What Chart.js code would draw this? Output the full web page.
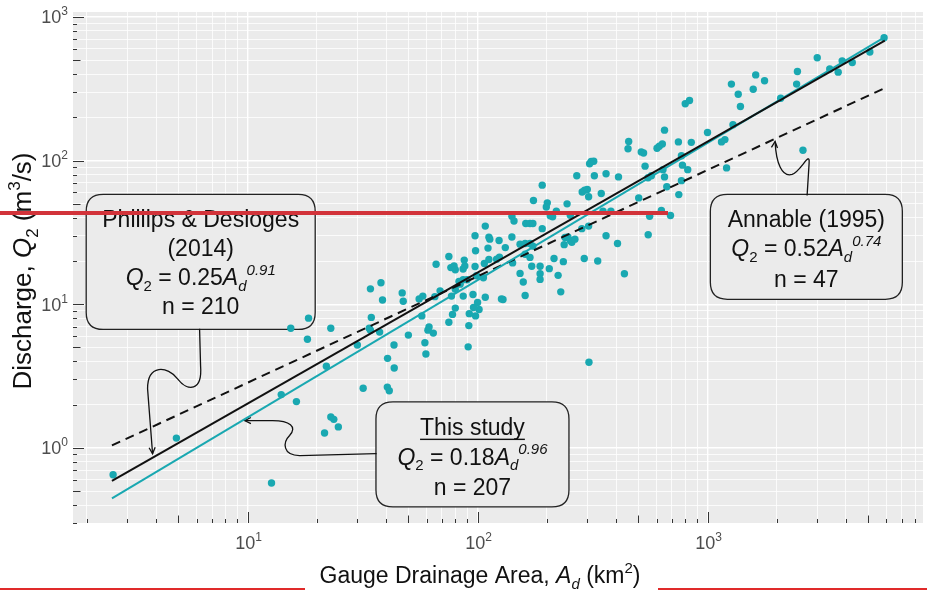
<!DOCTYPE html>
<html><head><meta charset="utf-8">
<script src="https://cdn.jsdelivr.net/npm/chart.js@4"></script>
<style>html,body{margin:0;padding:0;background:#fff;}#wrap{width:927px;height:592px;}</style>
</head><body><div id="wrap"><canvas id="c" width="927" height="592"></canvas></div>
<script>
// ---- data ----
const areaKm2 = [2.6,4.9,14,16.3,12.7,23,23.7,21.6,24.8,31.8,40.5,41.3,18.4,15.4,23,18.2,22,34.2,38,38.6,47,47.5,55.7,57.8,34.5,33.8,34.2,37.5,30,40.6,43.3,43.4,50,57.2,59,59.6,60.8,61.5,64.2,66,75,76.5,79,80,86.5,88,87.5,97.5,108,112,113,98,111,107,83,86.5,90,84,77,86.6,95.5,108,80,92,91.6,98,101.5,75,91,97.5,99,106,68.7,65.2,96,100,77.8,80,
191,175,201,199,207,212,141,144,162,169,174,191,124,141,132,153,161,169,174,121,124.5,112,142,161,169,172,187,153,158,187,187,161,127,129,
245,220,253,351,380,285,292,300,304,345,270,307,312,320,322,362,410,240,247,238,253,257,265,215,236,291,333,205,224,230,284,304,362,406,435,305,
650,747,850,1000,454,451,515,527,603,617,636,770,778,820,535,640,650,551,570,770,665,750,502,630,690,560,552,800,835,1150,1190,1210,1270,1360,1390,1290,1580,1620,1770,2080,2460,2440,2600,3000,3400,3700,3850,4260,5080,5860];
const dischargeQ2 = [0.65,1.17,2.35,2.1,0.57,1.64,1.58,1.27,1.4,2.6,2.65,2.5,8,6.8,6.8,5.7,3.7,12.8,14.1,10.7,12,10.5,10.9,11.4,8.1,6.8,6.6,6.4,5.2,4.2,5.2,3.6,6.1,8.3,5.4,4.5,6.6,6.95,6.3,19,21.5,18,18.5,17.4,17.6,18.5,20.3,30,35,29.3,28.4,23.6,24.6,19.2,14.4,14.8,14.8,13.8,11.4,11.4,11.7,11.2,9.4,8.6,7.1,8.3,9.2,7.5,5.05,18.3,15.8,15.3,12.4,11.3,9.5,10.3,8.5,12.7,
67.5,52.7,50.8,47.5,41.3,40.6,41,38,36.5,36.5,36.5,33.6,27.8,29.4,24.8,26.2,26.5,26.5,25.4,20.6,21.3,20.5,19.4,22.3,21.2,18.4,18.4,16.4,14.3,16.3,14.9,11.5,10.9,10.8,
50,44.5,41.7,44.5,44.5,60.5,62.3,63,56,59,78.5,95,98.5,99,78.5,81,77,29.2,29.4,26,27.8,27,28.4,20.8,19.8,20.8,20,17.7,15.9,12.2,33.6,35,30,26.5,16.3,3.95,
163,135,134,157,136,121,115,113,122,126,130.5,108,93,86.5,91.5,86.5,77,76,78.5,72.5,65.7,58,55,45,41.5,41,30.5,249,262,135,140,89,341,290,238,178,314,395,360,272,417,341,118,520,435,413,495,482,570,718];

// regression lines (end points)
const fitArea = [2.57, 5900];
const thisStudyQ = [0.445, 725];
const phillipsQ = [0.59, 685];
const annableQ = [1.04, 320];

// axis ticks
const tickMultipliers = [1,2,3,4,5,6,7,8,9];
const xDecades = [1,10,100,1000];
const yDecades = [0.1,1,10,100,1000];
const xLabelExponents = [1,2,3];
const yLabelExponents = [0,1,2,3];

const TEAL = '#19A8B1';
const FAM = '"Liberation Sans", Arial, Helvetica, sans-serif';

function buildTicks(decades, min, max){
  const out=[];
  decades.forEach(d=>tickMultipliers.forEach(m=>{const v=+(d*m).toPrecision(6); if(v>=min&&v<=max) out.push({value:v});}));
  return out;
}
function isDecade(v){const l=Math.log10(v);return Math.abs(l-Math.round(l))<1e-6;}
function isFive(v){const l=Math.log10(v/5);return Math.abs(l-Math.round(l))<1e-6;}

function richWidth(ctx, segs, size){
  let w=0;
  segs.forEach(s=>{ctx.font=`${s.i?'italic ':''}${(s.sub||s.sup)?Math.round(size*0.66):size}px ${FAM}`; w+=ctx.measureText(s.t).width;});
  return w;
}
function drawRich(ctx, segs, cx, cy, size, color){
  const f = s => `${s.i?'italic ':''}${(s.sub||s.sup)?Math.round(size*0.66):size}px ${FAM}`;
  let w=0;
  segs.forEach(s=>{ctx.font=f(s); s.w=ctx.measureText(s.t).width; w+=s.w;});
  let x=cx-w/2; const base=cy+size*0.36;
  ctx.fillStyle=color; ctx.textBaseline='alphabetic'; ctx.textAlign='left';
  segs.forEach(s=>{
    ctx.font=f(s); let y=base;
    if(s.sub) y+=size*0.25; if(s.sup) y-=size*0.45;
    ctx.fillText(s.t,x,y);
    if(s.u) ctx.fillRect(x, base+size*0.17, s.w, 1.4);
    x+=s.w;
  });
}

function roundRect(ctx,x,y,w,h,r){
  ctx.beginPath();
  ctx.moveTo(x+r,y);ctx.lineTo(x+w-r,y);ctx.quadraticCurveTo(x+w,y,x+w,y+r);
  ctx.lineTo(x+w,y+h-r);ctx.quadraticCurveTo(x+w,y+h,x+w-r,y+h);
  ctx.lineTo(x+r,y+h);ctx.quadraticCurveTo(x,y+h,x,y+h-r);
  ctx.lineTo(x,y+r);ctx.quadraticCurveTo(x,y,x+r,y);ctx.closePath();
}
function arrowHead(ctx,tx,ty,angle){
  const L=7,a=0.45;
  ctx.beginPath();
  ctx.moveTo(tx+L*Math.cos(angle+a),ty+L*Math.sin(angle+a));
  ctx.lineTo(tx,ty);
  ctx.lineTo(tx+L*Math.cos(angle-a),ty+L*Math.sin(angle-a));
  ctx.stroke();
}

// annotations: anchors in data coordinates
const notes = [
  {cx:6.25, cy:19.7, w:229, h:135, lines:[
    {dy:-43, segs:[{t:'Phillips & Desloges'}]},
    {dy:-14, segs:[{t:'(2014)'}]},
    {dy:15, segs:[{t:'Q',i:1},{t:'2',sub:1},{t:' = 0.25'},{t:'A',i:1},{t:'d',i:1,sub:1},{t:'0.91',i:1,sup:1}]},
    {dy:44, segs:[{t:'n = 210'}]}]},
  {cx:2690, cy:25.1, w:192, h:105, lines:[
    {dy:-28, segs:[{t:'Annable (1995)'}]},
    {dy:1, segs:[{t:'Q',i:1},{t:'2',sub:1},{t:' = 0.52'},{t:'A',i:1},{t:'d',i:1,sub:1},{t:'0.74',i:1,sup:1}]},
    {dy:32, segs:[{t:'n = 47'}]}]},
  {cx:95, cy:0.90, w:193, h:105, lines:[
    {dy:-28, segs:[{t:'This study',u:1}]},
    {dy:2, segs:[{t:'Q',i:1},{t:'2',sub:1},{t:' = 0.18'},{t:'A',i:1},{t:'d',i:1,sub:1},{t:'0.96',i:1,sup:1}]},
    {dy:32, segs:[{t:'n = 207'}]}]}
];
// callout tips in data coordinates
const tips = {phillips:[3.86,0.91], thisStudy:[9.7,1.55], annable:[1967,136]};

const annotPlugin = {
  id:'annot',
  beforeDraw(chart){
    const {ctx, chartArea:a} = chart;
    ctx.save(); ctx.fillStyle='#fff'; ctx.fillRect(0,0,chart.width,chart.height);
    ctx.fillStyle='#EBEBEB'; ctx.fillRect(a.left,a.top,a.right-a.left,a.bottom-a.top); ctx.restore();
  },
  beforeDatasetsDraw(chart){
    const {ctx, scales:{x,y}} = chart;
    ctx.save();
    notes.forEach(n=>{
      const px=x.getPixelForValue(n.cx), py=y.getPixelForValue(n.cy);
      roundRect(ctx, px-n.w/2, py-n.h/2, n.w, n.h, 17);
      ctx.fillStyle='#EBEBEB'; ctx.fill(); ctx.strokeStyle='#222'; ctx.lineWidth=1.3; ctx.stroke();
      n.lines.forEach(l=>drawRich(ctx,l.segs,px,py+l.dy,23,'#111'));
    });
    // callouts
    ctx.strokeStyle='#111'; ctx.lineWidth=1.3;
    let t=[x.getPixelForValue(tips.thisStudy[0]), y.getPixelForValue(tips.thisStudy[1])];
    ctx.beginPath();
    ctx.moveTo(t[0]+132,t[1]+33);
    ctx.lineTo(t[0]+55,t[1]+35);
    ctx.bezierCurveTo(t[0]+38,t[1]+35, t[0]+38,t[1]+22, t[0]+45,t[1]+15);
    ctx.bezierCurveTo(t[0]+53,t[1]+6, t[0]+45,t[1]+0, t[0]+28,t[1]+0);
    ctx.lineTo(t[0],t[1]);
    ctx.stroke(); arrowHead(ctx,t[0],t[1],0);
    t=[x.getPixelForValue(tips.phillips[0]), y.getPixelForValue(tips.phillips[1])];
    ctx.beginPath();
    ctx.moveTo(t[0]+47,t[1]-125);
    ctx.lineTo(t[0]+48,t[1]-88);
    ctx.bezierCurveTo(t[0]+50,t[1]-62, t[0]+35,t[1]-62, t[0]+25,t[1]-75);
    ctx.bezierCurveTo(t[0]+15,t[1]-88, t[0]-5,t[1]-90, t[0]-5,t[1]-65);
    ctx.lineTo(t[0],t[1]);
    ctx.stroke(); arrowHead(ctx,t[0],t[1],-Math.PI/2-0.07);
    t=[x.getPixelForValue(tips.annable[0]), y.getPixelForValue(tips.annable[1])];
    ctx.beginPath();
    ctx.moveTo(t[0]+32,t[1]+54);
    ctx.lineTo(t[0]+34,t[1]+22);
    ctx.bezierCurveTo(t[0]+35,t[1]+8, t[0]+26,t[1]+30, t[0]+17,t[1]+33);
    ctx.bezierCurveTo(t[0]+7,t[1]+36, t[0]+1,t[1]+22, t[0],t[1]);
    ctx.stroke(); arrowHead(ctx,t[0],t[1],Math.PI/2+0.1);
    ctx.restore();
  },
  afterDraw(chart){
    const {ctx, chartArea:a, scales:{x,y}} = chart;
    ctx.save();
    // log ticks inside panel
    ctx.strokeStyle='#333'; ctx.lineWidth=1;
    x.ticks.forEach(tk=>{
      const p=Math.round(x.getPixelForValue(tk.value))+0.5;
      const L=isDecade(tk.value)?11:(isFive(tk.value)?7.5:4);
      ctx.beginPath(); ctx.moveTo(p,a.bottom); ctx.lineTo(p,a.bottom-L); ctx.stroke();
    });
    y.ticks.forEach(tk=>{
      const p=Math.round(y.getPixelForValue(tk.value))+0.5;
      const L=isDecade(tk.value)?11:(isFive(tk.value)?7.5:4);
      ctx.beginPath(); ctx.moveTo(a.left,p); ctx.lineTo(a.left+L,p); ctx.stroke();
    });
    // tick labels 10^k
    xLabelExponents.forEach(e=>{
      const p=x.getPixelForValue(Math.pow(10,e));
      drawRich(ctx,[{t:'10'},{t:String(e),sup:1}],p+1,a.bottom+20,18,'#4D4D4D');
    });
    yLabelExponents.forEach(e=>{
      const p=y.getPixelForValue(Math.pow(10,e));
      const segs=[{t:'10'},{t:String(e),sup:1}];
      const w=richWidth(ctx,segs,18);
      drawRich(ctx,segs,a.left-5-w/2,p,18,'#4D4D4D');
    });
    // axis titles
    drawRich(ctx,[{t:'Gauge Drainage Area, '},{t:'A',i:1},{t:'d',i:1,sub:1},{t:' (km'},{t:'2',sup:1},{t:')'}],480,575,23,'#111');
    ctx.save(); ctx.translate(22,271); ctx.rotate(-Math.PI/2);
    drawRich(ctx,[{t:'Discharge, '},{t:'Q',i:1},{t:'2',sub:1},{t:' (m'},{t:'3',sup:1},{t:'/s)'}],0,0,26,'#111');
    ctx.restore();
    // red overlay strokes present in the reference
    ctx.fillStyle='#D2333A';
    ctx.fillRect(0,211,668,4);
    ctx.fillStyle='#E02A2A';
    ctx.fillRect(0,588,305,2);
    ctx.fillRect(658,588,269,2);
    ctx.restore();
  }
};

const pts = areaKm2.map((a,i)=>({x:a,y:dischargeQ2[i]}));
const line = q => fitArea.map((a,i)=>({x:a,y:q[i]}));

new Chart(document.getElementById('c'),{
  type:'scatter',
  data:{datasets:[
    {label:'Phillips & Desloges (2014)',data:line(phillipsQ),showLine:true,borderColor:'#111',borderWidth:2,pointRadius:0,order:0},
    {label:'This study',data:line(thisStudyQ),showLine:true,borderColor:TEAL,borderWidth:2,pointRadius:0,order:1},
    {label:'Annable (1995)',data:line(annableQ),showLine:true,borderColor:'#111',borderWidth:2,borderDash:[9,6],pointRadius:0,order:2},
    {label:'Gauges',data:pts,pointRadius:3.7,pointBackgroundColor:TEAL,pointBorderWidth:0,backgroundColor:TEAL,order:3}
  ]},
  options:{
    responsive:false, animation:false, devicePixelRatio:1,
    layout:{padding:{left:0,right:2,top:12,bottom:0}},
    plugins:{legend:{display:false},tooltip:{enabled:false}},
    scales:{
      x:{type:'logarithmic',min:1.74,max:8650,
        afterBuildTicks:s=>{s.ticks=buildTicks(xDecades,s.min,s.max);},
        afterFit:s=>{s.height=69;},
        ticks:{display:false},
        border:{display:false},
        grid:{color:'#FFFFFF',drawTicks:false,lineWidth:c=>isDecade(c.tick.value)?1.4:0.8}},
      y:{type:'logarithmic',min:0.306,max:1083,
        afterBuildTicks:s=>{s.ticks=buildTicks(yDecades,s.min,s.max);},
        afterFit:s=>{s.width=73;},
        ticks:{display:false},
        border:{display:false},
        grid:{color:'#FFFFFF',drawTicks:false,lineWidth:c=>isDecade(c.tick.value)?1.4:0.8}}
    }
  },
  plugins:[annotPlugin]
});
</script></body></html>
